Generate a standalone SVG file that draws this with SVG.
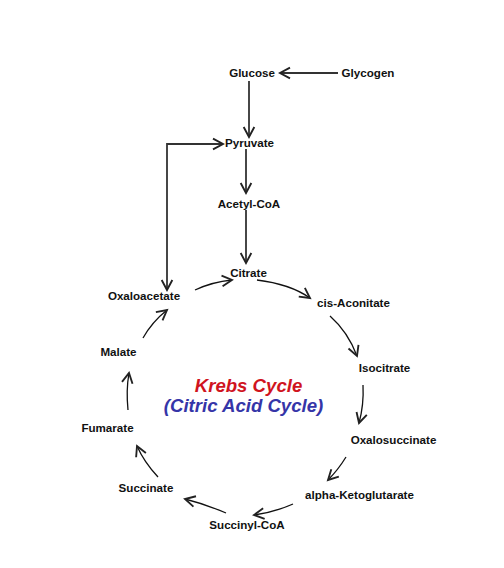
<svg xmlns="http://www.w3.org/2000/svg" width="504" height="568" viewBox="0 0 504 568">
<style>
.lbl{font-family:"Liberation Sans",Arial,sans-serif;font-weight:bold;font-size:11.6px;fill:#111;text-anchor:middle}
.title{font-family:"Liberation Sans",Arial,sans-serif;font-weight:bold;font-style:italic;font-size:18.6px;text-anchor:middle}
.st{fill:none;stroke:#333;stroke-width:1.8}
.cy{fill:none;stroke:#111;stroke-width:1.3}
</style>
<defs>
<marker id="ah" markerUnits="userSpaceOnUse" markerWidth="16" markerHeight="16" viewBox="-10 -6 12 12" refX="0" refY="0" orient="auto-start-reverse">
<path d="M-7.5,-4 L0,0 L-7.5,4" fill="none" stroke="#222" stroke-width="1.4"/>
</marker>
</defs>
<rect width="504" height="568" fill="#fff"/>
<g id="connectors">
<path class="st" d="M338,73 L280,73" marker-end="url(#ah)"/>
<path class="st" d="M249,81 L249,137" marker-end="url(#ah)"/>
<path class="st" d="M246,149 L246,193" marker-end="url(#ah)"/>
<path class="st" d="M246,210 L246,263" marker-end="url(#ah)"/>
<path class="st" d="M223,144 L167,144 L167,290" marker-start="url(#ah)" marker-end="url(#ah)"/>
<path class="cy" d="M195,290 Q212,282 232,280" marker-end="url(#ah)"/>
<path class="cy" d="M257,280 Q290,284 310,298" marker-end="url(#ah)"/>
<path class="cy" d="M330,316 Q348,332 357,356" marker-end="url(#ah)"/>
<path class="cy" d="M363,385 Q364,405 359,423" marker-end="url(#ah)"/>
<path class="cy" d="M346,457 Q338,470 328,480" marker-end="url(#ah)"/>
<path class="cy" d="M293,504 Q275,512 254,515" marker-end="url(#ah)"/>
<path class="cy" d="M226,513 Q205,504 185,499" marker-end="url(#ah)"/>
<path class="cy" d="M158,477 Q144,462 137,446" marker-end="url(#ah)"/>
<path class="cy" d="M128,410 Q126,390 129,373" marker-end="url(#ah)"/>
<path class="cy" d="M143,338 Q152,322 167,310" marker-end="url(#ah)"/>
</g>
<g id="glucose"><text class="lbl" x="252" y="77">Glucose</text></g>
<g id="glycogen"><text class="lbl" x="368" y="77">Glycogen</text></g>
<g id="pyruvate"><text class="lbl" x="249.5" y="147">Pyruvate</text></g>
<g id="acetyl-coa"><text class="lbl" x="249" y="208">Acetyl-CoA</text></g>
<g id="citrate"><text class="lbl" x="248.5" y="277">Citrate</text></g>
<g id="oxaloacetate"><text class="lbl" x="144" y="300">Oxaloacetate</text></g>
<g id="cis-aconitate"><text class="lbl" x="353.5" y="307">cis-Aconitate</text></g>
<g id="isocitrate"><text class="lbl" x="384.5" y="372">Isocitrate</text></g>
<g id="oxalosuccinate"><text class="lbl" x="393.5" y="444">Oxalosuccinate</text></g>
<g id="alpha-ketoglutarate"><text class="lbl" x="359.5" y="499">alpha-Ketoglutarate</text></g>
<g id="succinyl-coa"><text class="lbl" x="247" y="529">Succinyl-CoA</text></g>
<g id="succinate"><text class="lbl" x="146" y="492">Succinate</text></g>
<g id="fumarate"><text class="lbl" x="107.5" y="432">Fumarate</text></g>
<g id="malate"><text class="lbl" x="118.5" y="356">Malate</text></g>
<g id="title">
<text class="title" x="248.5" y="392" fill="#d0141e">Krebs Cycle</text>
<text class="title" x="243.5" y="412" fill="#3535a8">(Citric Acid Cycle)</text>
</g>
</svg>
